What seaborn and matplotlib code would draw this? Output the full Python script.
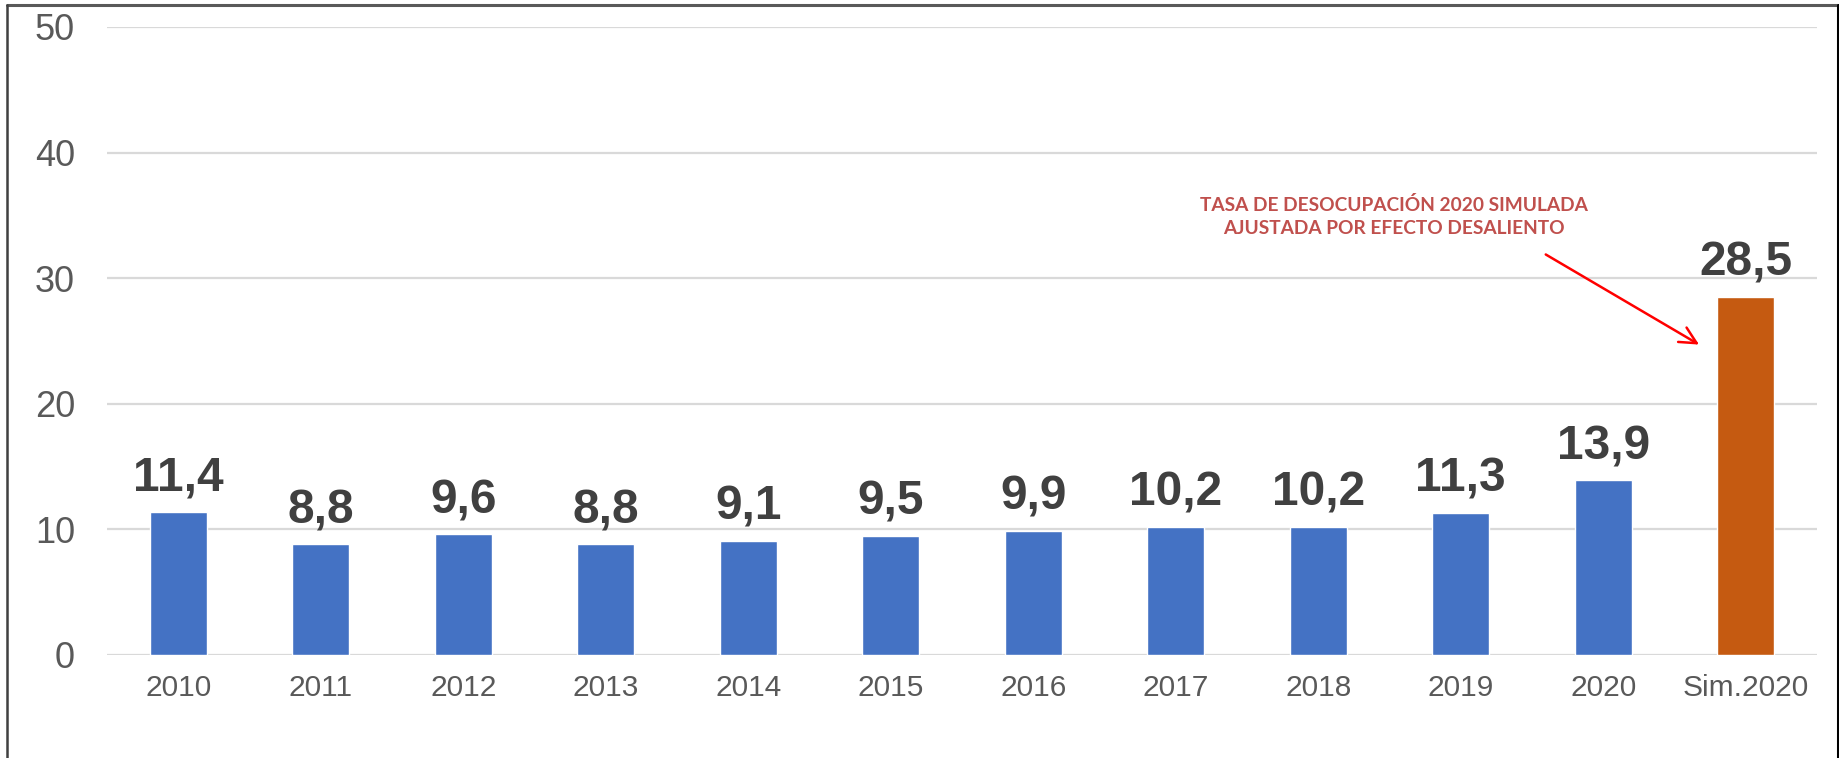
import matplotlib
matplotlib.use("Agg")
import matplotlib.pyplot as plt
from matplotlib.lines import Line2D
import seaborn as sns

categories = ["2010", "2011", "2012", "2013", "2014", "2015",
              "2016", "2017", "2018", "2019", "2020", "Sim.2020"]
values = [11.4, 8.8, 9.6, 8.8, 9.1, 9.5, 9.9, 10.2, 10.2, 11.3, 13.9, 28.5]
bar_colors = ["#4472C4"] * 11 + ["#C55A11"]
y_ticks = [0, 10, 20, 30, 40, 50]
note = "TASA DE DESOCUPACIÓN 2020 SIMULADA\nAJUSTADA POR EFECTO DESALIENTO"

sns.set_theme(style="white")
plt.rcParams["font.family"] = ["Liberation Sans", "DejaVu Sans"]

fig = plt.figure(figsize=(18.39, 7.58), dpi=100)
ax = fig.add_axes([0.0582, 0.1359, 0.9298, 0.8285])

sns.barplot(x=categories, y=values, hue=categories, palette=bar_colors,
            width=0.4, legend=False, ax=ax, saturation=1)

ax.set_ylim(0, 50)
ax.set_xlim(-0.5, len(categories) - 0.5)
ax.set_yticks(y_ticks)
ax.yaxis.grid(True, color="#D9D9D9", linewidth=1.6)
ax.set_axisbelow(True)
for s in ax.spines.values():
    s.set_visible(False)
ax.tick_params(axis="y", length=0, pad=23, labelsize=26, labelcolor="#595959")
ax.tick_params(axis="x", length=0, pad=14, labelsize=21.5, labelcolor="#595959")
ax.set_xlabel("")
ax.set_ylabel("")

for cont in ax.containers:
    labels = [f"{v:.1f}".replace(".", ",") for v in cont.datavalues]
    ax.bar_label(cont, labels=labels, padding=8, fontsize=34.5,
                 fontweight="bold", color="#404040")

ax.text(8.53, 34.9, note, ha="center", va="center", fontsize=13.8,
        fontweight="bold", color="#C0504D", family=["Lato", "DejaVu Sans"],
        linespacing=1.45)
ax.annotate("", xy=(10.69, 24.6), xytext=(9.58, 32.0),
            arrowprops=dict(arrowstyle="->", color="#FF0000", lw=1.8,
                            mutation_scale=30))

# outer frame (top, left, right)
fig.add_artist(Line2D([0.0038, 0.9995], [0.9934, 0.9934], color="#595959", lw=2.2))
fig.add_artist(Line2D([0.0038, 0.0038], [0.0, 0.9934], color="#404040", lw=1.8))
fig.add_artist(Line2D([0.9995, 0.9995], [0.0, 0.9934], color="#000000", lw=2.2))

fig.savefig("out.png", dpi=100)
